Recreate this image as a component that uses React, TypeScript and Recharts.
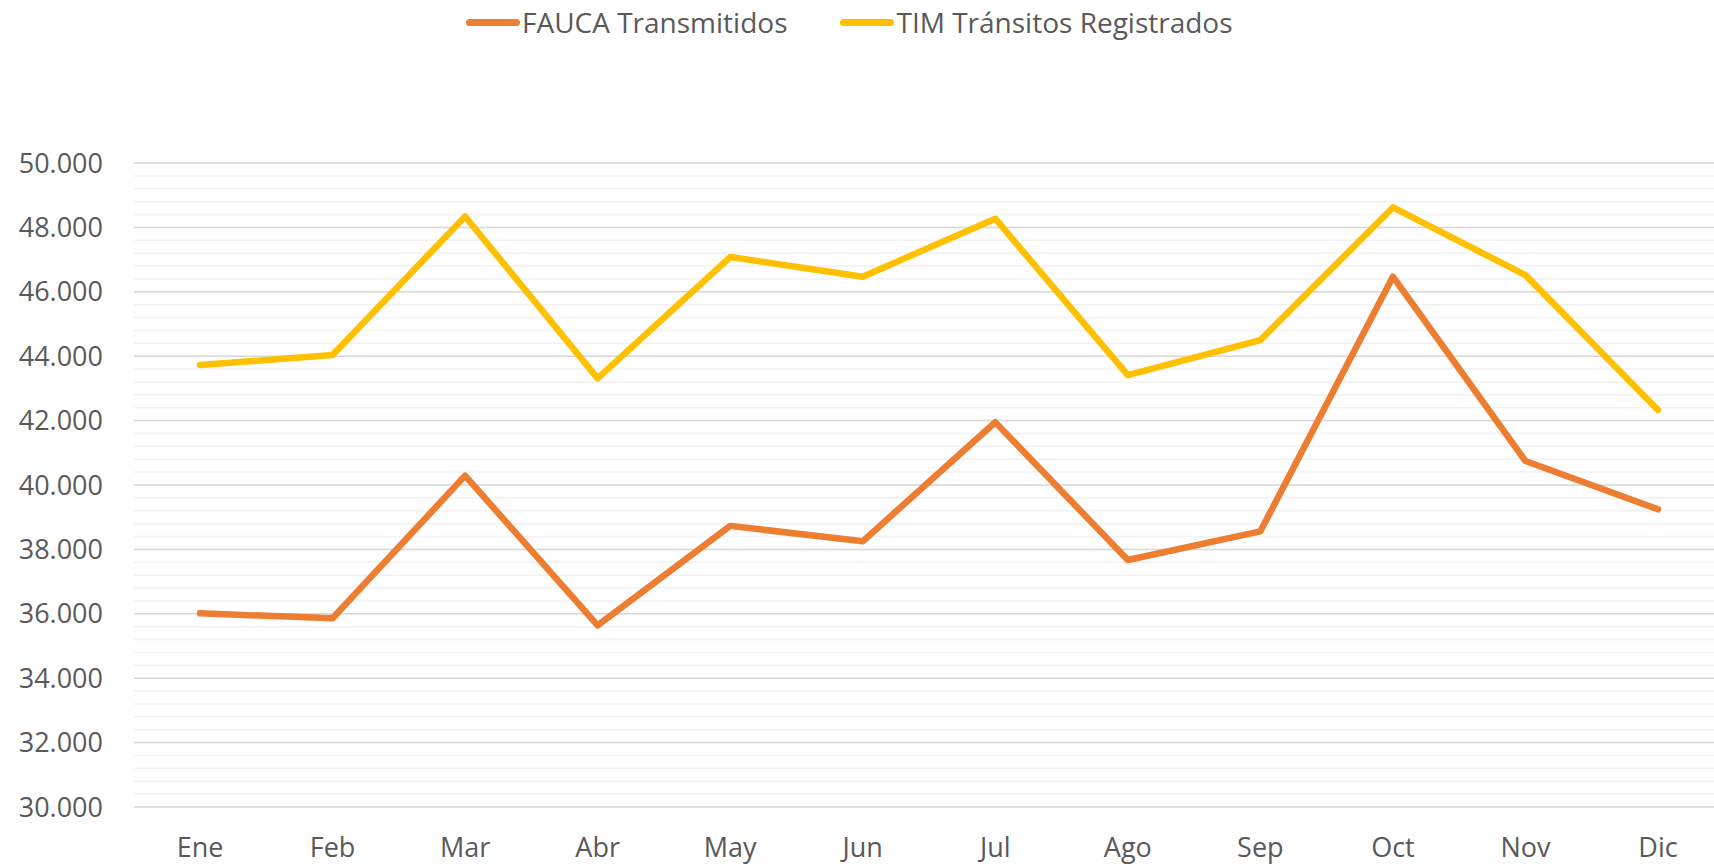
import {
  CartesianGrid,
  Legend,
  Line,
  LineChart,
  ReferenceLine,
  XAxis,
  YAxis,
} from "recharts";

const months = ["Ene", "Feb", "Mar", "Abr", "May", "Jun", "Jul", "Ago", "Sep", "Oct", "Nov", "Dic"];
const fauca = [36015, 35860, 40290, 35640, 38730, 38250, 41950, 37670, 38560, 46470, 40745, 39245];
const tim = [43725, 44035, 48340, 43310, 47080, 46470, 48270, 43410, 44500, 48620, 46520, 42330];
const majorTicks = [30000, 32000, 34000, 36000, 38000, 40000, 42000, 44000, 46000, 48000, 50000];
const minorTicks = [
  30000, 30400, 30800, 31200, 31600, 32000, 32400, 32800, 33200, 33600, 34000, 34400, 34800, 35200, 35600,
  36000, 36400, 36800, 37200, 37600, 38000, 38400, 38800, 39200, 39600, 40000, 40400, 40800, 41200, 41600,
  42000, 42400, 42800, 43200, 43600, 44000, 44400, 44800, 45200, 45600, 46000, 46400, 46800, 47200, 47600,
  48000, 48400, 48800, 49200, 49600, 50000,
];

const series = [
  { key: "fauca", name: "FAUCA Transmitidos", color: "#ED7D31" },
  { key: "tim", name: "TIM Tránsitos Registrados", color: "#FFC000" },
];

const data = months.map((m, i) => ({ month: m, fauca: fauca[i], tim: tim[i] }));

const font = "'Open Sans', sans-serif";

const fmt = (v: number) => (v % 2000 === 0 ? v.toLocaleString("de-DE") : "");

function LegendContent() {
  return (
    <div style={{ display: "flex", alignItems: "center", height: 44, fontFamily: font, fontSize: 28, color: "#595959" }}>
      {series.map((s, i) => (
        <div key={s.key} style={{ display: "flex", alignItems: "center", marginLeft: i === 0 ? 0 : 53 }}>
          <span style={{ display: "inline-block", width: 54, height: 7, borderRadius: 4, background: s.color, marginRight: 2 }} />
          <span>{s.name}</span>
        </div>
      ))}
    </div>
  );
}

export default function App() {
  return (
    <div style={{ position: "fixed", left: 0, top: 0, width: 1714, height: 867, overflow: "hidden", background: "#fff" }}>
      <LineChart width={1724} height={867} data={data} margin={{ top: 163, right: 0, bottom: 30, left: 0 }}>
        <CartesianGrid vertical={false} stroke="#F2F2F2" strokeWidth={1.5} />
        {majorTicks.map((t) => (
          <ReferenceLine key={t} y={t} stroke="#D9D9D9" strokeWidth={1.5} />
        ))}
        <XAxis
          dataKey="month"
          height={30}
          axisLine={false}
          tickLine={false}
          tickSize={0}
          tickMargin={31}
          padding={{ left: 66, right: 66 }}
          tick={{ fontFamily: font, fontSize: 27, fill: "#595959" }}
        />
        <YAxis
          domain={[30000, 50000]}
          ticks={minorTicks}
          interval={0}
          width={134}
          axisLine={false}
          tickLine={false}
          tickSize={0}
          tickMargin={31}
          tickFormatter={fmt}
          tick={{ fontFamily: font, fontSize: 27, fill: "#595959" }}
        />
        <Legend
          verticalAlign="middle"
          align="center"
          content={<LegendContent />}
          wrapperStyle={{ top: 0, left: 466, width: "auto" }}
        />
        {series.map((s) => (
          <Line
            key={s.key}
            dataKey={s.key}
            name={s.name}
            stroke={s.color}
            strokeWidth={6.5}
            strokeLinecap="round"
            strokeLinejoin="round"
            dot={false}
            activeDot={false}
            isAnimationActive={false}
          />
        ))}
      </LineChart>
    </div>
  );
}
